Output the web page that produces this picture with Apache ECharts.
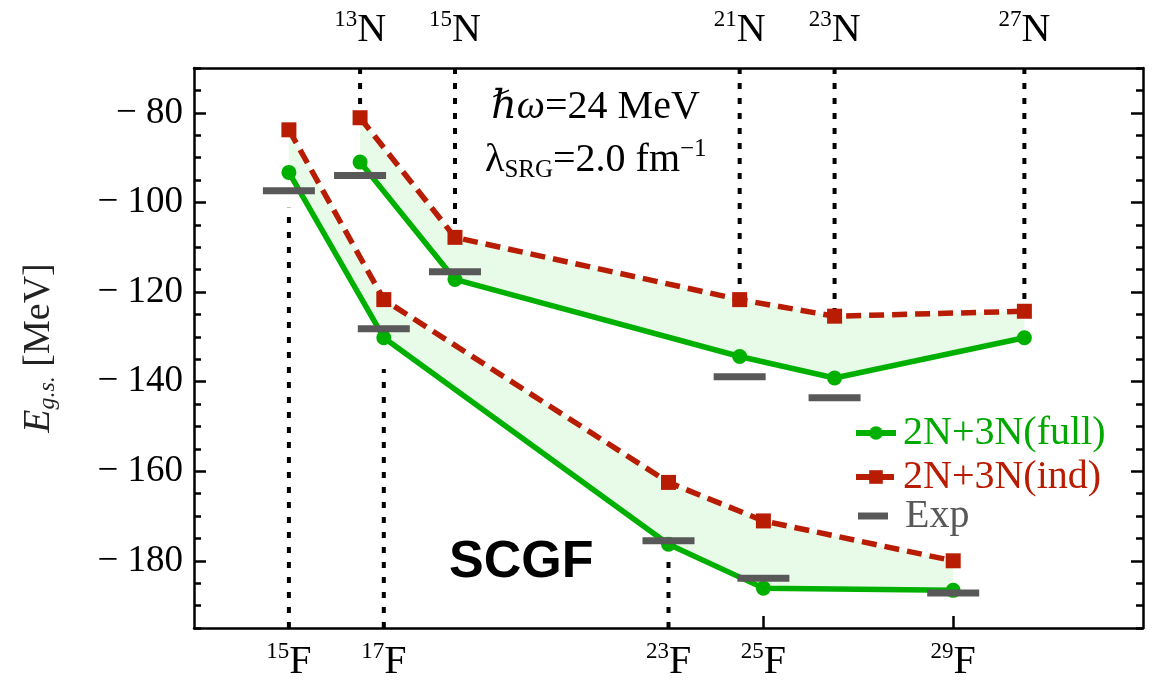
<!DOCTYPE html>
<html>
<head>
<meta charset="utf-8">
<script src="https://cdn.jsdelivr.net/npm/echarts@6/dist/echarts.min.js"></script>
<style>
  html, body { margin: 0; padding: 0; background: #fff; }
  #chart { width: 1152px; height: 681px; }
</style>
</head>
<body>
<div id="chart"></div>
<script>
// Fluorine isotopes: mass numbers and ground-state energies (MeV)
const fMass = [15, 17, 23, 25, 29];
const fFull = [-93.3, -130.2, -176.3, -186.1, -186.6];
const fInd  = [-83.8, -121.7, -162.5, -171.1, -180.0];
const fExp  = [-97.4, -128.2, -175.5, -183.9, -187.2];
// where the dotted guide above each F isotope stops (null: plain tick only)
const fGuideEnd = [-101.2, -137.2, -180.1, null, null];

// Nitrogen isotopes
const nMass = [13, 15, 21, 23, 27];
const nFull = [-91.0, -117.2, -134.4, -139.2, -130.2];
const nInd  = [-81.1, -107.8, -121.7, -125.4, -124.3];
const nExp  = [-94.0, -115.5, -138.9, -143.6, null];

// Energy axis
const yMin = -195, yMax = -70;
const yMajor = [-180, -160, -140, -120, -100, -80];

// Horizontal placement: neutron number, nitrogen chain shifted by 1.5
const Z_F = 9, Z_N = 7, N_SHIFT = 1.5;
const fX = fMass.map(a => a - Z_F);
const nX = nMass.map(a => a - Z_N + N_SHIFT);

const GREEN = '#00b000';
const RED = '#b81c02';
const GREY = '#585858';
const BAND = '#e8fae8';
const SERIF = "'Liberation Serif', 'Times New Roman', 'DejaVu Serif', serif";

const pairs = (xs, ys) => xs.map((x, i) => [x, ys[i]]).filter(p => p[1] != null);

function band(xs, upper, lower) {
  return {
    type: 'custom', silent: true, z: 1,
    data: [[xs[0], upper[0]]],
    renderItem: (params, api) => {
      const top = xs.map((x, i) => api.coord([x, upper[i]]));
      const bot = xs.map((x, i) => api.coord([x, lower[i]])).reverse();
      return { type: 'polygon', shape: { points: top.concat(bot) }, style: { fill: BAND } };
    }
  };
}

function guide(x, y0, y1) {
  return {
    type: 'line', silent: true, z: 2, symbol: 'none', animation: false,
    data: [[x, y0], [x, y1]],
    lineStyle: { color: '#000', width: 4, type: [6, 9] }
  };
}

const guides = [];
fX.forEach((x, i) => { if (fGuideEnd[i] != null) guides.push(guide(x, yMin, fGuideEnd[i])); });
nX.forEach((x, i) => guides.push(guide(x, yMax, nInd[i])));

function fullLine(xs, ys) {
  return {
    name: '2N+3N(full)', type: 'line', z: 3, data: pairs(xs, ys),
    symbol: 'circle', symbolSize: 15,
    itemStyle: { color: GREEN },
    lineStyle: { color: GREEN, width: 5.5 }
  };
}
function indLine(xs, ys) {
  return {
    name: '2N+3N(ind)', type: 'line', z: 3, data: pairs(xs, ys),
    symbol: 'rect', symbolSize: 15,
    itemStyle: { color: RED },
    lineStyle: { color: RED, width: 5.5, type: [15, 8] }
  };
}

const isoLabel = (xs, mass, sym) => v => {
  const i = xs.findIndex(x => Math.abs(x - v) < 1e-6);
  return i < 0 ? '' : '{s|' + mass[i] + '}{m|' + sym + '}';
};
const isoRich = {
  m: { fontFamily: SERIF, fontSize: 40, lineHeight: 44, color: '#000' },
  s: { fontFamily: SERIF, fontSize: 23, lineHeight: 24, verticalAlign: 'top', color: '#000' }
};

const frameLine = { show: true, lineStyle: { color: '#000', width: 2.5 } };
const majorTick = { show: true, inside: true, length: 12, lineStyle: { color: '#000', width: 2.5 }, customValues: yMajor };
const minorTick = { show: true, inside: true, length: 7, lineStyle: { color: '#000', width: 2.5 } };

const chart = echarts.init(document.getElementById('chart'), null, { renderer: 'canvas' });
chart.setOption({
  animation: false,
  backgroundColor: '#fff',
  grid: { left: 194, top: 68, width: 949, height: 560, containLabel: false, outerBoundsMode: 'none' },
  xAxis: [
    {
      type: 'value', position: 'bottom', min: 4, max: 24,
      axisLine: frameLine, splitLine: { show: false },
      axisTick: { show: true, inside: true, length: 12, lineStyle: { color: '#000', width: 2.5 },
                  customValues: fX.filter((x, i) => fGuideEnd[i] == null) },
      axisLabel: { customValues: fX, formatter: isoLabel(fX, fMass, 'F'), rich: isoRich, margin: 12 }
    },
    {
      type: 'value', position: 'top', min: 4, max: 24,
      axisLine: frameLine, splitLine: { show: false },
      axisTick: { show: false },
      axisLabel: { customValues: nX, formatter: isoLabel(nX, nMass, 'N'), rich: isoRich, margin: 16 }
    }
  ],
  yAxis: [
    {
      type: 'value', position: 'left', min: yMin, max: yMax,
      axisLine: frameLine, splitLine: { show: false }, axisTick: majorTick,
      axisLabel: {
        customValues: yMajor, margin: 11, color: '#000',
        fontFamily: SERIF, fontSize: 37,
        formatter: v => (v < 0 ? '\u2212 ' : '') + Math.abs(v)
      },
      name: '{e|E}{sub|g.s.}{m| [MeV]}',
      nameLocation: 'middle', nameGap: 134, nameRotate: 90,
      nameTextStyle: {
        rich: {
          e: { fontFamily: SERIF, fontStyle: 'italic', fontSize: 38, lineHeight: 42, color: '#222' },
          sub: { fontFamily: SERIF, fontStyle: 'italic', fontSize: 24, lineHeight: 26, verticalAlign: 'bottom', color: '#222' },
          m: { fontFamily: SERIF, fontSize: 38, lineHeight: 42, color: '#222' }
        }
      }
    },
    {
      type: 'value', position: 'left', min: yMin, max: yMax, interval: 5,
      axisLine: { show: false }, splitLine: { show: false }, axisTick: minorTick, axisLabel: { show: false }
    },
    {
      type: 'value', position: 'right', min: yMin, max: yMax,
      axisLine: frameLine, splitLine: { show: false }, axisTick: majorTick, axisLabel: { show: false }
    },
    {
      type: 'value', position: 'right', min: yMin, max: yMax, interval: 5,
      axisLine: { show: false }, splitLine: { show: false }, axisTick: minorTick, axisLabel: { show: false }
    }
  ],
  legend: [
    {
      orient: 'vertical', left: 848, top: 408, itemWidth: 40, itemHeight: 17, itemGap: 4,
      selectedMode: false,
      lineStyle: { width: 6 },
      textStyle: { fontFamily: SERIF, fontSize: 40, padding: [0, 0, 0, 2] },
      data: [
        { name: '2N+3N(full)', textStyle: { color: '#00a800' } },
        { name: '2N+3N(ind)', textStyle: { color: RED } }
      ]
    },
    {
      orient: 'vertical', left: 853, top: 491, itemWidth: 30, itemHeight: 7,
      selectedMode: false,
      textStyle: { fontFamily: SERIF, fontSize: 40, padding: [0, 0, 0, 12], color: GREY },
      data: [{ name: 'Exp', icon: 'rect' }]
    }
  ],
  graphic: [
    {
      type: 'text', left: 491, top: 87, z: 10,
      style: {
        text: '{i|\u210Fω}{m|=24 MeV}',
        rich: {
          i: { fontFamily: SERIF, fontStyle: 'italic', fontSize: 40, lineHeight: 46, fill: '#000' },
          m: { fontFamily: SERIF, fontSize: 40, lineHeight: 46, fill: '#000' }
        }
      }
    },
    {
      type: 'text', left: 485, top: 137, z: 10,
      style: {
        text: '{m|λ}{sub|SRG}{m|=2.0 fm}{sup|\u22121}',
        rich: {
          m: { fontFamily: SERIF, fontSize: 40, lineHeight: 46, fill: '#000' },
          sub: { fontFamily: SERIF, fontSize: 25, lineHeight: 30, verticalAlign: 'bottom', fill: '#000' },
          sup: { fontFamily: SERIF, fontSize: 25, lineHeight: 19, verticalAlign: 'top', fill: '#000' }
        }
      }
    },
    {
      type: 'text', left: 449, top: 537, z: 10,
      style: { text: 'SCGF', fontFamily: "'Liberation Sans', Arial, sans-serif", fontWeight: 'bold', fontSize: 52, fill: '#000' }
    }
  ],
  series: [
    band(fX, fInd, fFull),
    band(nX, nInd, nFull),
    ...guides,
    fullLine(fX, fFull),
    fullLine(nX, nFull),
    indLine(fX, fInd),
    indLine(nX, nInd),
    {
      name: 'Exp', type: 'scatter', z: 4,
      data: pairs(fX, fExp).concat(pairs(nX, nExp)),
      symbol: 'rect', symbolSize: [52, 7],
      itemStyle: { color: GREY, opacity: 1 }
    }
  ]
});
</script>
</body>
</html>
